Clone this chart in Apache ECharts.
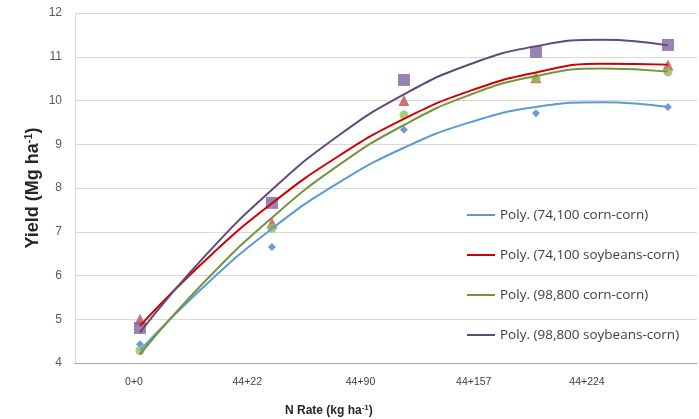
<!DOCTYPE html>
<html style="height: 100%">
<head>
  <meta charset="utf-8">
</head>
<body style="height: 100%; margin: 0; background: #fff">
  <div id="container" style="width: 699px; height: 419px"></div>
  <script type="text/javascript" src="https://fastly.jsdelivr.net/npm/echarts@6/dist/echarts.min.js"></script>
  <script type="text/javascript">
    // category labels (N rate)
    var categories = ['0+0', '44+22', '44+90', '44+157', '44+224'];
    var yTicks = [4, 5, 6, 7, 8, 9, 10, 11, 12];

    // observed yields, one per category
    var cc74 = [4.43, 6.65, 9.33, 9.71, 9.85];
    var sc74 = [5.0, 7.2, 10.0, 10.52, 10.81];
    var cc98 = [4.28, 7.08, 9.67, 10.5, 10.65];
    var sc98 = [4.8, 7.66, 10.47, 11.11, 11.27];

    // trend lines at half-category steps
    var trendX = [0, 0.5, 1, 1.5, 2, 2.5, 3, 3.5, 4];
    var trendCc74 = [4.29, 5.79, 7.07, 8.11, 8.92, 9.50, 9.85, 9.96, 9.85];
    var trendSc74 = [4.85, 6.36, 7.65, 8.72, 9.58, 10.22, 10.64, 10.84, 10.82];
    var trendCc98 = [4.20, 5.89, 7.32, 8.51, 9.44, 10.13, 10.56, 10.73, 10.66];
    var trendSc98 = [4.70, 6.47, 7.96, 9.19, 10.14, 10.83, 11.24, 11.39, 11.26];

    var names = [
      'Poly. (74,100 corn-corn)',
      'Poly. (74,100 soybeans-corn)',
      'Poly. (98,800 corn-corn)',
      'Poly. (98,800 soybeans-corn)'
    ];

    function pts(xs, ys) {
      return ys.map(function (v, i) { return [xs[i], v]; });
    }
    var idx = categories.map(function (c, i) { return i; });

    var myChart = echarts.init(document.getElementById('container'), null, { renderer: 'canvas' });

    var option = {
      animation: false,
      backgroundColor: '#fff',
      title: {
        text: '{a|N Rate (kg ha}{s|-1}{a|)}',
        left: 285,
        top: 404,
        padding: 0,
        textStyle: {
          rich: {
            a: { fontFamily: 'Liberation Sans', fontWeight: 'bold', fontSize: 12, color: '#262626', lineHeight: 14 },
            s: { fontFamily: 'Liberation Sans', fontWeight: 'bold', fontSize: 8, color: '#262626', verticalAlign: 'top', lineHeight: 14 }
          }
        }
      },
      legend: {
        orient: 'vertical',
        left: 467,
        top: 206,
        padding: 0,
        icon: 'rect',
        itemWidth: 28,
        itemHeight: 2,
        itemGap: 22,
        data: names,
        textStyle: { fontFamily: 'Open Sans', fontSize: 13.5, color: '#404040', lineHeight: 18 }
      },
      grid: [
        { left: 75, right: 2, top: 13, bottom: 56 },
        { left: 134, right: 112, top: 13, bottom: 56 }
      ],
      xAxis: [
        {
          type: 'value', gridIndex: 0, min: -0.492, max: 4.22,
          axisLine: { lineStyle: { color: '#a6a6a6' } },
          axisTick: { show: false }, axisLabel: { show: false }, splitLine: { show: false }
        },
        {
          type: 'value', gridIndex: 1, min: 0, max: 4, interval: 1,
          axisLine: { show: false }, axisTick: { show: false }, splitLine: { show: false },
          axisLabel: {
            margin: 14, fontFamily: 'Liberation Sans', fontSize: 10.5, color: '#404040',
            formatter: function (v) { return categories[v]; }
          }
        }
      ],
      yAxis: [
        {
          type: 'value', gridIndex: 0, min: yTicks[0], max: yTicks[yTicks.length - 1], interval: 1,
          name: '{a|Yield (Mg ha}{s|-1}{a|)}',
          nameLocation: 'middle',
          nameGap: 32,
          nameMoveOverlap: false,
          nameTextStyle: {
            rich: {
              a: { fontFamily: 'Liberation Sans', fontWeight: 'bold', fontSize: 18, color: '#262626', lineHeight: 20 },
              s: { fontFamily: 'Liberation Sans', fontWeight: 'bold', fontSize: 11, color: '#262626', verticalAlign: 'top', lineHeight: 20 }
            }
          },
          axisLine: { show: true, onZero: false, lineStyle: { color: '#d9d9d9' } },
          axisTick: { show: false },
          axisLabel: { margin: 13, fontFamily: 'Liberation Sans', fontSize: 12, color: '#595959' },
          splitLine: { lineStyle: { color: '#d9d9d9' } }
        },
        {
          type: 'value', gridIndex: 1, min: 4, max: 12, show: false
        }
      ],
      series: [
        { name: 'cc74', type: 'scatter', symbol: 'diamond', symbolSize: 8, itemStyle: { color: '#4F81BD' }, data: pts(idx, cc74), z: 2 },
        { name: 'sc74', type: 'scatter', symbol: 'triangle', symbolSize: 11, itemStyle: { color: '#C0504D' }, data: pts(idx, sc74), z: 2 },
        { name: 'cc98', type: 'scatter', symbol: 'circle', symbolSize: 9, itemStyle: { color: '#9BBB59' }, data: pts(idx, cc98), z: 2 },
        { name: 'sc98', type: 'scatter', symbol: 'rect', symbolSize: 12, itemStyle: { color: '#8064A2' }, data: pts(idx, sc98), z: 2 },
        { name: names[0], type: 'line', smooth: true, symbol: 'none', lineStyle: { color: '#5B9BD5', width: 2 }, itemStyle: { color: '#5B9BD5' }, data: pts(trendX, trendCc74), z: 3 },
        { name: names[1], type: 'line', smooth: true, symbol: 'none', lineStyle: { color: '#D00000', width: 2 }, itemStyle: { color: '#D00000' }, data: pts(trendX, trendSc74), z: 3 },
        { name: names[2], type: 'line', smooth: true, symbol: 'none', lineStyle: { color: '#77933C', width: 2 }, itemStyle: { color: '#77933C' }, data: pts(trendX, trendCc98), z: 3 },
        { name: names[3], type: 'line', smooth: true, symbol: 'none', lineStyle: { color: '#604A7B', width: 2 }, itemStyle: { color: '#604A7B' }, data: pts(trendX, trendSc98), z: 3 }
      ]
    };

    myChart.setOption(option);
    window.addEventListener('resize', myChart.resize);
  </script>
</body>
</html>
